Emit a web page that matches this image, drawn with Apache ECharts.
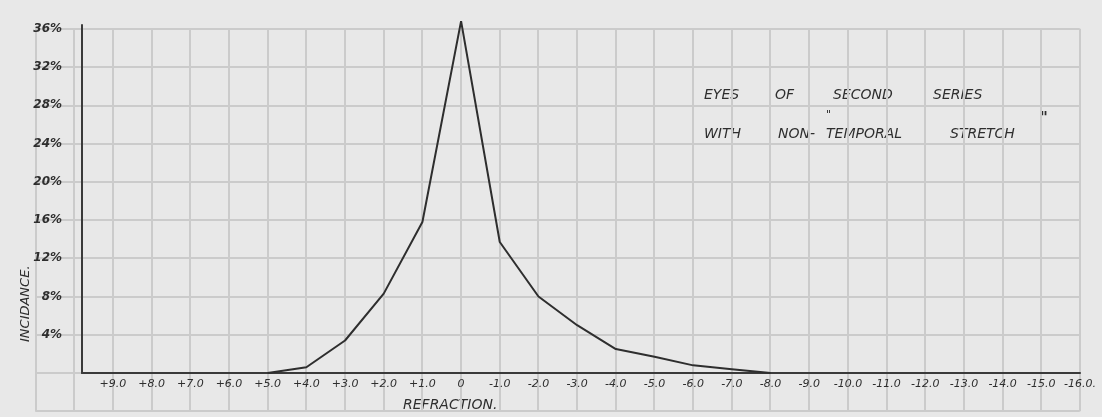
<!DOCTYPE html>
<html>
<head>
<meta charset="utf-8">
<script src="https://cdn.jsdelivr.net/npm/echarts@6/dist/echarts.min.js"></script>
<style>
  html, body { margin: 0; padding: 0; background: #e8e8e8; }
  #chart { width: 1102px; height: 417px; }
</style>
</head>
<body>
<div id="chart"></div>
<script>
// refraction (dioptres), plus values drawn on the left
const refraction = [5, 4, 3, 2, 1, 0, -1, -2, -3, -4, -5, -6, -7, -8]
// incidence (%)
const incidence = [0, 0.6, 3.4, 8.3, 15.8, 36.8, 13.7, 8.0, 5.0, 2.5, 1.7, 0.8, 0.4, 0]

const xTickValues = [9, 8, 7, 6, 5, 4, 3, 2, 1, 0, -1, -2, -3, -4, -5, -6, -7, -8, -9, -10, -11, -12, -13, -14, -15, -16]
const xTickLabels = ['+9.0', '+8.0', '+7.0', '+6.0', '+5.0', '+4.0', '+3.0', '+2.0', '+1.0', '0',
  '-1.0', '-2.0', '-3.0', '-4.0', '-5.0', '-6.0', '-7.0', '-8.0', '-9.0', '-10.0', '-11.0',
  '-12.0', '-13.0', '-14.0', '-15.0', '-16.0.']
const yTickValues = [4, 8, 12, 16, 20, 24, 28, 32, 36]
const yTickLabels = ['4%', '8%', '12%', '16%', '20%', '24%', '28%', '32%', '36%']

const ink = '#2e2e2e'
const paperLine = '#cbcbcb'
const hand = { fontFamily: 'DejaVu Sans', fontStyle: 'italic', color: ink }

function pick(values, labels, v) {
  const i = values.indexOf(Math.round(v * 1000) / 1000)
  return i < 0 ? '' : labels[i]
}

function word(text, left, top, size) {
  return { type: 'text', left, top, style: { ...hand, fill: ink, text, fontSize: size || 14 } }
}

const chart = echarts.init(document.getElementById('chart'))
chart.setOption({
  backgroundColor: '#e8e8e8',
  animation: false,
  grid: [
    // plot area
    { left: 82, right: 22, top: 25, bottom: 44, outerBoundsMode: 'none' },
    // graph paper behind everything
    { left: 35.3, right: 22.3, top: 28.8, bottom: 5.8, outerBoundsMode: 'none' },
  ],
  xAxis: [
    {
      gridIndex: 0,
      type: 'value',
      inverse: true,
      min: -16,
      max: 9.8,
      interval: 1,
      axisLine: { onZero: false, lineStyle: { color: '#3a3a3a', width: 2 } },
      axisTick: { show: false },
      splitLine: { show: false },
      axisLabel: {
        ...hand,
        fontSize: 11,
        margin: 6,
        showMaxLabel: false,
        formatter: (v) => pick(xTickValues, xTickLabels, v),
      },
    },
    {
      gridIndex: 1,
      type: 'value',
      inverse: true,
      min: -16,
      max: 11,
      interval: 1,
      axisLine: { show: false },
      axisTick: { show: false },
      axisLabel: { show: false },
      splitLine: { lineStyle: { color: paperLine, width: 2 } },
    },
  ],
  yAxis: [
    {
      gridIndex: 0,
      type: 'value',
      min: 0,
      max: 36.4,
      interval: 4,
      axisLine: { show: true, onZero: false, lineStyle: { color: '#3a3a3a', width: 2 } },
      axisTick: { show: false },
      splitLine: { show: false },
      axisLabel: {
        ...hand,
        fontSize: 12,
        fontWeight: 'bold',
        margin: 20,
        showMinLabel: false,
        showMaxLabel: false,
        formatter: (v) => pick(yTickValues, yTickLabels, v),
      },
    },
    {
      gridIndex: 1,
      type: 'value',
      min: -4,
      max: 36,
      interval: 4,
      axisLine: { show: false },
      axisTick: { show: false },
      axisLabel: { show: false },
      splitLine: { lineStyle: { color: paperLine, width: 2 } },
    },
  ],
  series: [
    {
      type: 'line',
      xAxisIndex: 0,
      yAxisIndex: 0,
      data: refraction.map((r, i) => [r, incidence[i]]),
      symbol: 'none',
      clip: false,
      z: 5,
      lineStyle: { color: ink, width: 2 },
    },
  ],
  graphic: [
    word('REFRACTION.', 403, 398, 14),
    { type: 'text', x: 19, y: 342, rotation: Math.PI / 2, style: { ...hand, fill: ink, text: 'INCIDANCE.', fontSize: 13 } },
    word('EYES', 704, 88),
    word('OF', 775, 88),
    word('SECOND', 833, 88),
    word('SERIES', 933, 88),
    word('"', 826, 110, 11),
    word('WITH', 704, 127),
    word('NON-', 778, 127),
    word('TEMPORAL', 826, 127),
    word('STRETCH', 950, 127),
    { type: 'text', left: 1040, top: 112, style: { ...hand, fill: ink, text: '"', fontSize: 15, fontWeight: 'bold' } },
  ],
})
</script>
</body>
</html>
